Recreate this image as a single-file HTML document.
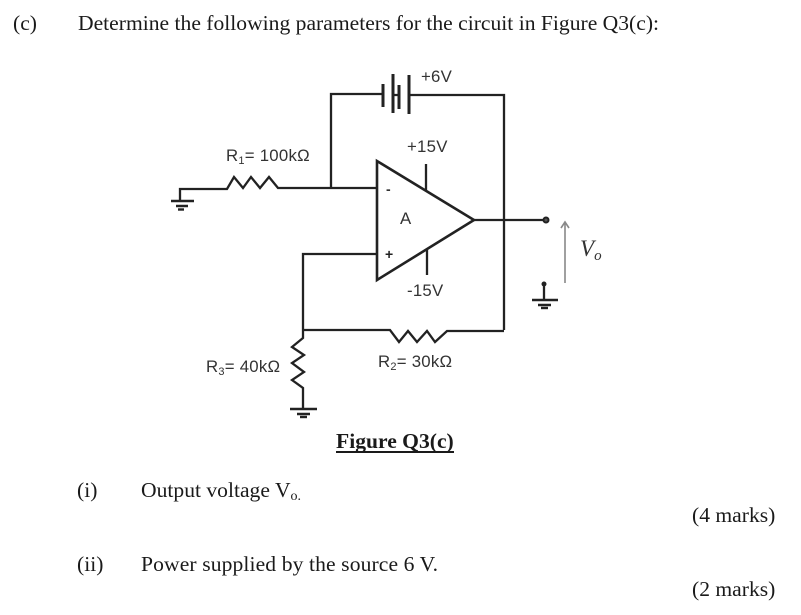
<!DOCTYPE html>
<html><head><meta charset="utf-8">
<style>
html,body{margin:0;padding:0;background:#fff}
svg{display:block}
.t{font-family:"Liberation Serif",serif;font-size:21.6px;fill:#1a1a1a}
.s{font-family:"Liberation Sans",sans-serif;font-size:16.8px;letter-spacing:.25px;fill:#333}
.w{fill:none;stroke:#222;stroke-width:2.3}
</style></head>
<body>
<svg width="801" height="615" viewBox="0 0 801 615" xmlns="http://www.w3.org/2000/svg">
<rect width="801" height="615" fill="#fff"/>
<text class="t" x="13" y="30">(c)</text>
<text class="t" x="78" y="30">Determine the following parameters for the circuit in Figure Q3(c):</text>

<path class="w" d="M383 94H331V188M409 95H504V330M399 95H393"/>
<path class="w" style="stroke-width:3" d="M383 84V107M393 74V113M399 85V109M409 75V114"/>
<text class="s" x="421" y="82">+6V</text>
<text class="s" x="407" y="152">+15V</text>

<path class="w" d="M180 201V189H227L234 177L243 188L251 177L260 188L269 177L278 188H377"/>
<path class="w" style="stroke-width:2.6" d="M171 201H194M176 206H188"/>
<path class="w" style="stroke-width:2.4" d="M178 209.500H184"/>
<text class="s" x="226" y="161">R<tspan font-size="11" dy="3">1</tspan><tspan dy="-3">= 100kΩ</tspan></text>

<path class="w" style="stroke-width:2.6" d="M377 161V280L474 220Z"/>
<path class="w" d="M426 164V190M427 249V275M474 220H546"/>
<circle cx="546" cy="220" r="2.500" fill="#555" stroke="#222" stroke-width="2"/>
<text class="s" x="400" y="224">A</text>
<text x="386" y="194" style="font-family:'Liberation Sans',sans-serif;font-size:14px;font-weight:bold;fill:#333">-</text>
<text x="385" y="259" style="font-family:'Liberation Sans',sans-serif;font-size:14px;font-weight:bold;fill:#222">+</text>
<text class="s" x="407" y="296">-15V</text>

<path class="w" d="M377 254H303V330M303 330H390L399 342L408 331L417 342L427 331L435 342L447 331H504"/>
<path class="w" d="M303 330V338L292 347L304 355L292 363L304 372L292 380L303 388V409"/>
<path class="w" style="stroke-width:2.6" d="M290 409H317M297 414H310"/>
<path class="w" style="stroke-width:2.4" d="M300 417H307"/>
<text class="s" x="206" y="372">R<tspan font-size="11" dy="3">3</tspan><tspan dy="-3">= 40kΩ</tspan></text>
<text class="s" x="378" y="367">R<tspan font-size="11" dy="3">2</tspan><tspan dy="-3">= 30kΩ</tspan></text>

<path fill="none" stroke="#888" stroke-width="1.6" d="M565 283V222M561 228L565 222L569 228"/>
<text x="580" y="256" style="font-family:'Liberation Serif',serif;font-style:italic;font-size:23px;fill:#333">V<tspan font-size="15" dy="4">o</tspan></text>
<circle cx="544" cy="284" r="2.500" fill="#222"/>
<path class="w" d="M544 284V300"/>
<path class="w" style="stroke-width:2.4" d="M532 300H558M538 305H551"/>
<path class="w" style="stroke-width:2.4" d="M541 308H548"/>

<text x="336" y="448" style="font-family:'Liberation Serif',serif;font-weight:bold;font-size:21.6px;fill:#1a1a1a">Figure Q3(c)</text>
<rect x="336" y="451" width="118" height="2" fill="#1a1a1a"/>

<text class="t" x="77" y="497">(i)</text>
<text class="t" x="141" y="497">Output voltage V<tspan font-size="14" dy="3">o.</tspan></text>
<text class="t" x="692" y="522">(4 marks)</text>
<text class="t" x="77" y="571">(ii)</text>
<text class="t" x="141" y="571" textLength="297">Power supplied by the source 6 V.</text>
<text class="t" x="692" y="596">(2 marks)</text>
</svg>
</body></html>
